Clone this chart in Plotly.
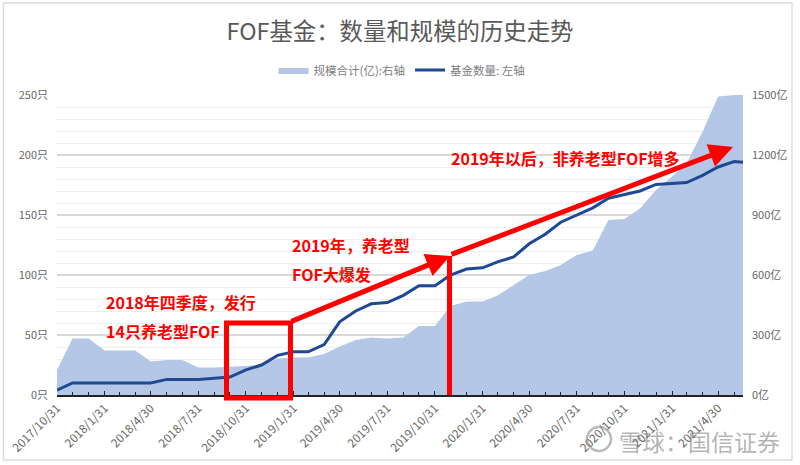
import plotly.graph_objects as go

# month ends, the last point stops mid June
dates = ["2017-10-31", "2017-11-30", "2017-12-31",
         "2018-01-31", "2018-02-28", "2018-03-31", "2018-04-30", "2018-05-31", "2018-06-30",
         "2018-07-31", "2018-08-31", "2018-09-30", "2018-10-31", "2018-11-30", "2018-12-31",
         "2019-01-31", "2019-02-28", "2019-03-31", "2019-04-30", "2019-05-31", "2019-06-30",
         "2019-07-31", "2019-08-31", "2019-09-30", "2019-10-31", "2019-11-30", "2019-12-31",
         "2020-01-31", "2020-02-29", "2020-03-31", "2020-04-30", "2020-05-31", "2020-06-30",
         "2020-07-31", "2020-08-31", "2020-09-30", "2020-10-31", "2020-11-30", "2020-12-31",
         "2021-01-31", "2021-02-28", "2021-03-31", "2021-04-30", "2021-05-31", "2021-06-17"]

fund_count = [4, 10, 10,
              10, 10, 10, 10, 13, 13,
              13, 14, 15, 21, 25, 33,
              36, 36, 42, 61, 70, 76,
              77, 83, 91, 91, 100, 105,
              106, 111, 115, 126, 134, 144,
              150, 156, 164, 167, 170, 175.5,
              176, 177, 183, 190, 194.5, 194]

aum_total = [125, 283, 283,
             222, 222, 222, 167, 175, 175,
             137, 138, 142, 145, 153, 183,
             187, 187, 205, 242, 275, 288,
             283, 287, 345, 345, 445, 467,
             467, 497, 550, 600, 620, 650,
             700, 722, 875, 880, 933, 1025,
             1092, 1158, 1317, 1492, 1500, 1500]

tick_dates = dates[0:-1:3]
tick_labels = [f"{d[:4]}/{int(d[5:7])}/{int(d[8:])}" for d in tick_dates]

count_ticks = [0, 50, 100, 150, 200, 250]
count_labels = ["0只", "50只", "100只", "150只", "200只", "250只"]
aum_ticks = [0, 300, 600, 900, 1200, 1500]
aum_labels = ["0亿", "300亿", "600亿", "900亿", "1200亿", "1500亿"]

AREA = "#b4c7e7"
LINE = "#1f4a93"
RED = "#ff0000"

# plot box in the 800x465 picture, overlay drawing is placed in picture pixels
L, R, T, B = 57, 743, 95, 395


def px(x):
    return (x - L) / (R - L)


def py(y):
    return (B - y) / (B - T)


def paper_line(x0, y0, x1, y1, color=RED, width=5):
    return dict(type="line", xref="paper", yref="paper", x0=px(x0), y0=py(y0), x1=px(x1), y1=py(y1),
                line=dict(color=color, width=width))


def note(text, x, y):
    return dict(text=f"<b>{text}</b>", xref="paper", yref="paper", x=px(x), y=py(y),
                xanchor="left", yanchor="middle", showarrow=False,
                font=dict(size=16, color=RED))


def arrow(x0, y0, x1, y1):
    return dict(text="", xref="paper", yref="paper", x=px(x1), y=py(y1),
                axref="pixel", ayref="pixel", ax=x0 - x1, ay=y0 - y1, showarrow=True,
                arrowhead=2, arrowsize=0.95, arrowwidth=5, arrowcolor=RED, standoff=0)


fig = go.Figure()
# area goes on the base axis so the line stays on top of it
fig.add_trace(go.Scatter(x=dates, y=aum_total, name="规模合计(亿):右轴", mode="lines",
                         fill="tozeroy", fillcolor=AREA, line=dict(color=AREA, width=0), yaxis="y"))
fig.add_trace(go.Scatter(x=dates, y=fund_count, name="基金数量: 左轴", mode="lines",
                         line=dict(color=LINE, width=3), yaxis="y2"))

fig.update_layout(
    width=800, height=465,
    margin=dict(l=L, r=800 - R, t=T, b=465 - B, autoexpand=False),
    paper_bgcolor="white", plot_bgcolor="white",
    font=dict(family="Noto Sans CJK SC, Noto Sans, sans-serif", size=11, color="#666666"),
    title=dict(text="FOF基金：数量和规模的历史走势", x=0.5, xanchor="center", y=0.932, yanchor="middle",
               font=dict(size=23.4, color="#595959")),
    legend=dict(orientation="h", x=0.503, xanchor="center", y=1.083, yanchor="middle",
                font=dict(size=11.5, color="#808080"), itemwidth=30),
    xaxis=dict(type="date", range=[dates[0], dates[-1]], tickmode="array",
               tickvals=tick_dates, ticktext=tick_labels, tickangle=-45,
               tickfont=dict(size=11.8, color="#666666"),
               showline=True, linecolor="#222222", linewidth=1.5,
               ticks="inside", ticklen=4, tickcolor="#222222", showgrid=False,
               minor=dict(ticks="inside", ticklen=3, tickcolor="#222222", tickmode="array",
                          tickvals=dates, showgrid=False)),
    yaxis=dict(range=[0, 1500], side="right", tickmode="array", tickvals=aum_ticks, ticktext=aum_labels,
               ticklabelstandoff=8, zeroline=False,
               gridcolor="#d9d9d9", gridwidth=1.5,
               minor=dict(tickmode="array", tickvals=list(range(60, 1500, 60)),
                          showgrid=True, gridcolor="#eeeeee", gridwidth=1.2)),
    yaxis2=dict(range=[0, 250], side="left", overlaying="y", tickmode="array",
                tickvals=count_ticks, ticktext=count_labels,
                ticklabelstandoff=8, showgrid=False, zeroline=False),
    shapes=[
        # picture frame
        dict(type="rect", xref="paper", yref="paper", x0=px(3.5), y0=py(3), x1=px(792), y1=py(460),
             line=dict(color="#dcdcdc", width=1.5), layer="above"),
        # 2018 Q4 box and the drop line
        dict(type="rect", xref="paper", yref="paper", x0=px(226.5), y0=py(398), x1=px(290.5), y1=py(323),
             line=dict(color=RED, width=5)),
        paper_line(449.5, 395, 449.5, 256),
        # watermark logo
        dict(type="circle", xref="paper", yref="paper", x0=px(587), y0=py(451), x1=px(611), y1=py(427),
             line=dict(color="rgba(130,130,130,0.55)", width=2.5)),
    ],
    annotations=[
        arrow(290, 322, 450, 256),
        arrow(450, 255, 733, 147),
        note("2019年以后，非养老型FOF增多", 449, 158),
        note("2019年，养老型", 290, 245),
        note("FOF大爆发", 290, 274),
        note("2018年四季度，发行", 104, 302),
        note("14只养老型FOF", 104, 331),
        dict(text="雪球：国信证券", xref="paper", yref="paper", x=px(617), y=py(441),
             xanchor="left", yanchor="middle", showarrow=False,
             font=dict(size=23, color="rgba(130,130,130,0.6)")),
    ],
)

# the page's default 8px body margin would push the 800x465 figure off the window
fig.write_html("out.html", config={"displayModeBar": False},
               post_script="document.body.style.margin = '0';")
